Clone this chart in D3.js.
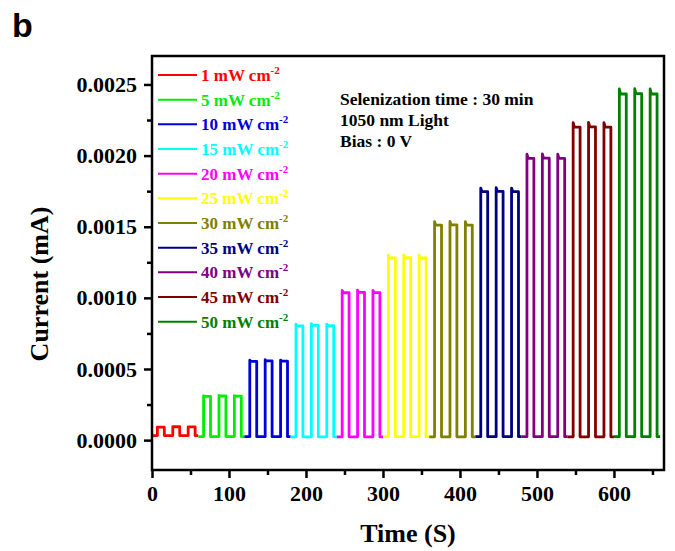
<!doctype html>
<html>
<head>
<meta charset="utf-8">
<style>
  body { margin: 0; background: #fff; }
  svg { display: block; }
  text { font-family: 'Times New Roman', 'Liberation Serif', serif; font-weight: bold; fill: #000; }
  .tick text { font-size: 22px; }
  .tick line { stroke: #000; stroke-width: 2.5; }
  .axis path.domain { display: none; }
  .axis-title { font-size: 26px; }
  .legend text { font-size: 17px; }
  .note { font-size: 17.5px; }
  .panel { font-family: 'Liberation Sans', Arial, sans-serif; font-size: 34px; }
  .trace { fill: none; stroke-width: 2.8; stroke-linejoin: round; }
</style>
<script src="https://d3js.org/d3.v7.min.js"></script>
</head>
<body>
<svg width="675" height="551"></svg>
<script>
// light intensity of each 60 s block (mW cm-2) and its trace colour
const intensities = [1, 5, 10, 15, 20, 25, 30, 35, 40, 45, 50];
const colors = ['#ff0000', '#00ee00', '#0000dd', '#00ffff', '#ff00ff', '#ffff00',
                '#808000', '#000080', '#800080', '#800000', '#008000'];
// block start times (s) and switching times inside a block (s)
const blockStart = [0, 60, 120, 180, 240, 300, 360, 420, 480, 540, 600];
const lightOn = [7, 27, 47];
const lightOff = [16, 36, 56];
// dark current per block (mA)
const darkCurrent = [0.000032, 0.000025, 0.000024, 0.000023, 0.000023, 0.000024,
                     0.000023, 0.000024, 0.000024, 0.000023, 0.000024];
// peak photocurrent of each of the three pulses (mA)
const peakCurrent = [
  [0.000092, 0.000094, 0.000093],
  [0.000312, 0.000314, 0.000313],
  [0.000562, 0.000565, 0.000563],
  [0.000815, 0.000818, 0.000816],
  [0.001052, 0.001055, 0.001053],
  [0.001300, 0.001302, 0.001300],
  [0.001535, 0.001537, 0.001535],
  [0.001772, 0.001775, 0.001772],
  [0.002010, 0.002012, 0.002010],
  [0.002232, 0.002234, 0.002232],
  [0.002468, 0.002470, 0.002468]
];
// drop from the spike to the plateau while the light stays on (mA)
const spikeDrop = [0, 0.000004, 0.000008, 0.000012, 0.000016, 0.00002,
                   0.000024, 0.000026, 0.00003, 0.000032, 0.000035];

const xTicks = [0, 100, 200, 300, 400, 500, 600];
const yTicks = [0, 0.0005, 0.001, 0.0015, 0.002, 0.0025];

const svg = d3.select('svg');
const plotLeft = 152, plotRight = 664, plotTop = 56, plotBottom = 470;

const x = d3.scaleLinear().domain([0, 665]).range([plotLeft, plotRight]);
const y = d3.scaleLinear().domain([-0.00021, 0.0027]).range([plotBottom, plotTop]);

svg.append('defs').append('clipPath').attr('id', 'plot')
  .append('rect').attr('x', plotLeft).attr('y', plotTop)
  .attr('width', plotRight - plotLeft).attr('height', plotBottom - plotTop);

// minor ticks
svg.append('g').attr('class', 'axis')
  .attr('transform', `translate(0,${plotBottom})`)
  .call(d3.axisBottom(x).tickValues(d3.range(50, 665, 100)).tickSize(5).tickFormat(''));
svg.append('g').attr('class', 'axis')
  .attr('transform', `translate(${plotLeft},0)`)
  .call(d3.axisLeft(y).tickValues(d3.range(0.00025, 0.0027, 0.0005)).tickSize(5).tickFormat(''));

// major ticks
svg.append('g').attr('class', 'axis')
  .attr('transform', `translate(0,${plotBottom})`)
  .call(d3.axisBottom(x).tickValues(xTicks).tickSize(8).tickPadding(7).tickFormat(d3.format('d')));
svg.append('g').attr('class', 'axis')
  .attr('transform', `translate(${plotLeft},0)`)
  .call(d3.axisLeft(y).tickValues(yTicks).tickSize(8).tickPadding(7).tickFormat(d3.format('.4f')));

// one path per illumination block
const line = d3.line().x(d => x(d[0])).y(d => y(d[1]));
const traces = svg.append('g').attr('clip-path', 'url(#plot)');
intensities.forEach((_, i) => {
  const t0 = blockStart[i], dark = darkCurrent[i];
  const pts = [[t0, dark]];
  lightOn.forEach((on, k) => {
    const peak = peakCurrent[i][k];
    pts.push([t0 + on, dark], [t0 + on, peak],
             [t0 + on + 1.5, peak - spikeDrop[i]],
             [t0 + lightOff[k], peak - spikeDrop[i]],
             [t0 + lightOff[k], dark]);
  });
  pts.push([t0 + 60, dark]);
  traces.append('path').attr('class', 'trace')
    .attr('stroke', colors[i]).attr('d', line(pts));
});

// frame
svg.append('rect')
  .attr('x', plotLeft).attr('y', plotTop)
  .attr('width', plotRight - plotLeft).attr('height', plotBottom - plotTop)
  .attr('fill', 'none').attr('stroke', '#000').attr('stroke-width', 2.5);

// legend
const legend = svg.append('g').attr('class', 'legend');
intensities.forEach((v, i) => {
  const ly = 75 + i * 24.67;
  legend.append('line')
    .attr('x1', 158).attr('x2', 197).attr('y1', ly).attr('y2', ly)
    .attr('stroke', colors[i]).attr('stroke-width', 2);
  const t = legend.append('text')
    .attr('x', 201).attr('y', ly + 6)
    .style('fill', colors[i]);
  t.append('tspan').text(`${v} mW cm`);
  t.append('tspan').attr('dy', -7).style('font-size', '11px').text('-2');
});

// measurement conditions
['Selenization time : 30 min', '1050 nm Light', 'Bias : 0 V'].forEach((s, i) => {
  svg.append('text').attr('class', 'note')
    .attr('x', 340).attr('y', 105 + i * 21).text(s);
});

svg.append('text').attr('class', 'axis-title')
  .attr('x', (plotLeft + plotRight) / 2).attr('y', 542)
  .attr('text-anchor', 'middle').text('Time (S)');

svg.append('text').attr('class', 'axis-title')
  .attr('transform', 'translate(48,284) rotate(-90)')
  .attr('text-anchor', 'middle').text('Current (mA)');

svg.append('text').attr('class', 'panel')
  .attr('x', 12).attr('y', 37).text('b');
</script>
</body>
</html>
